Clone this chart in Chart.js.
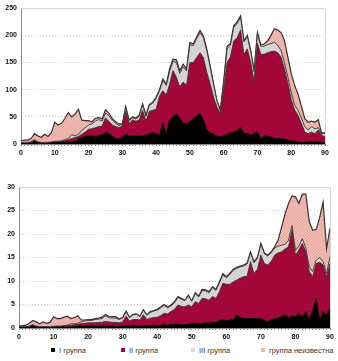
<!DOCTYPE html>
<html>
<head>
<meta charset="utf-8">
<script src="https://cdn.jsdelivr.net/npm/chart.js@4"></script>
<style>
  body { margin: 0; background: #fff; width: 338px; height: 361px; overflow: hidden; position: relative;
         font-family: "Liberation Sans", Arial, sans-serif; }
  #chartTop { position: absolute; left: 0; top: 0; }
  #chartBottom { position: absolute; left: 0; top: 162px; }
  #legend { position: absolute; left: 0; top: 346px; width: 338px; height: 10px; font-size: 7.5px; color: #333; }
  #legend .item { position: absolute; top: 0; line-height: 10px; white-space: nowrap; }
  #legend .sw { display: inline-block; width: 4px; height: 4px; margin-right: 4px; vertical-align: 1px; }
</style>
</head>
<body>
<canvas id="chartTop" width="338" height="162"></canvas>
<canvas id="chartBottom" width="338" height="183"></canvas>
<div id="legend"></div>
<script>
// age, 0..90
const ages = Array.from({ length: 91 }, (_, i) => i);

const seriesNames = ["I группа", "II группа", "III группа", "группа неизвестна"];

// upper panel (0-250)
const topGroup1 = [1,1,1,2,5,2,1,1,1,2, 2,3,3,3,4,4,5,10,12,14, 15,15,14,15,17,21,19,15,10,9,
  13,18,14,16,15,15,16,16,19,21, 19,16,38,19,44,50,56,47,38,38, 41,47,52,56,44,26,20,19,14,13,
  15,18,20,22,25,30,20,19,16,20, 22,10,16,14,13,10,10,10,9,7, 6,5,4,2,3,4,4,4,4,2, 3];
const topGroup2 = [1,1,1,1,2,1,1,1,1,1, 2,1,2,3,4,6,7,4,6,8, 12,13,16,17,16,27,23,20,22,21,
  20,42,24,28,27,29,46,26,41,41, 45,72,60,71,66,85,67,58,76,70, 109,103,107,112,115,106,91,67,54,43,
  85,132,140,168,170,180,145,156,134,95, 163,155,149,154,157,161,158,150,129,105, 76,58,49,36,19,15,18,15,22,14, 10];
const topGroup3 = [1,1,1,1,1,1,1,1,1,1, 1,1,1,2,2,7,3,4,7,8, 8,9,12,13,9,9,10,9,6,4,
  3,7,5,4,4,7,10,9,11,13, 20,10,19,18,24,17,27,25,28,27, 33,31,35,37,37,40,31,23,11,5,
  12,25,22,25,27,23,23,23,20,18, 18,15,15,15,15,16,14,12,12,11, 13,9,9,10,10,7,10,9,4,3, 6];
const topUnknown = [3,4,4,6,11,11,9,15,11,17, 35,30,32,39,48,33,40,46,19,13, 8,4,5,4,4,6,5,3,3,3,
  1,2,1,2,2,2,2,2,2,2, 2,2,3,2,4,4,5,5,5,3, 4,3,3,4,3,3,2,2,1,2,
  3,5,3,3,3,3,2,2,2,2, 2,3,4,7,15,25,28,33,40,37, 35,36,30,22,15,14,10,12,15,1, 2];

// lower panel (0-30)
const botGroup1 = [0.1,0.1,0.1,0.2,0.5,0.2,0.1,0.1,0.1,0.1, 0.1,0.2,0.2,0.2,0.2,0.2,0.3,0.4,0.4,0.4,
  0.4,0.4,0.4,0.4,0.4,0.5,0.4,0.4,0.3,0.3, 0.4,0.6,0.4,0.5,0.4,0.4,0.5,0.5,0.5,0.6,
  0.5,0.5,0.8,0.5,0.8,0.8,0.8,0.7,0.7,0.8, 1.0,1.0,0.9,1.0,1.1,1.0,1.3,1.1,1.6,1.8,
  1.5,1.7,1.7,2.8,2.3,2.0,2.0,2.0,2.0,2.0, 2.0,1.6,1.3,1.8,2.0,2.0,2.5,2.8,2.2,2.6,
  2.4,3.1,2.4,3.5,1.7,3.8,6.3,1.7,3.5,2.8, 4.2];
const botGroup2 = [0.1,0.1,0.1,0.1,0.1,0.1,0.1,0.1,0.1,0.1, 0.2,0.1,0.1,0.2,0.3,0.4,0.4,0.4,0.5,0.6,
  0.7,0.7,0.7,0.8,0.8,0.9,0.9,0.8,0.9,0.8, 0.9,1.9,1.1,1.3,1.4,1.3,2.3,1.3,1.6,1.6,
  1.8,2.1,2.3,2.5,2.7,3.2,4.1,3.9,3.8,4.1, 3.5,4.6,4.3,5.3,5.1,4.9,5.4,5.2,6.1,7.7,
  7.8,7.6,8.1,7.4,8.3,8.9,9.0,12.1,9.6,10.5, 13.5,12.1,12.1,12.4,13.5,14.0,13.7,14.0,15.1,18.2,
  13.1,13.5,15.6,12.7,10.3,7.1,7.4,12.3,9.9,8.1, 9.5];
const botGroup3 = [0.1,0.1,0.1,0.1,0.1,0.1,0.1,0.1,0.1,0.1, 0.1,0.1,0.1,0.1,0.1,0.3,0.2,0.2,0.4,0.5,
  0.5,0.5,0.7,0.7,0.8,1.2,0.9,0.9,0.9,0.7, 0.8,0.9,0.7,1.0,1.1,0.7,1.0,0.9,1.2,1.4,
  1.5,1.7,1.7,1.3,1.2,1.4,1.6,1.5,1.3,1.9, 1.2,1.7,1.4,1.7,1.7,1.6,1.9,1.7,1.9,1.8,
  1.4,2.1,2.5,2.5,2.4,2.3,2.6,1.9,2.3,2.3, 2.3,2.1,1.9,1.8,1.5,1.4,1.4,1.0,1.4,1.0,
  1.0,0.8,1.0,0.8,1.0,1.1,0.7,1.0,0.7,0.7, 1.4];
const botUnknown = [0.1,0.2,0.3,0.6,0.9,0.9,0.6,1.0,0.7,0.9, 2.0,1.6,1.6,1.8,1.9,1.1,1.3,1.6,0.4,0.2,
  0.2,0.2,0.2,0.2,0.3,0.3,0.3,0.3,0.3,0.1, 0.2,0.2,0.1,0.1,0.1,0.1,0.1,0.1,0.2,0.1,
  0.2,0.2,0.2,0.2,0.2,0.2,0.2,0.2,0.1,0.2, 0.1,0.2,0.2,0.2,0.2,0.2,0.2,0.2,0.2,0.3,
  0.2,0.2,0.2,0.2,0.2,0.2,0.2,0.2,0.2,0.2, 0.2,0.2,0.2,0.2,0.3,1.3,3.9,6.5,7.8,6.3,
  11.4,9.1,9.5,11.5,9.6,8.8,6.6,8.5,12.7,5.3, 6.1];

const topTicks = [0, 50, 100, 150, 200, 250];
const bottomTicks = [0, 5, 10, 15, 20, 25, 30];

const FONT = "'Liberation Sans', Arial, sans-serif";
const LINE = "#3d2f2f";

// small dithered fills like the scanned original
function texture(base, dot) {
  const c = document.createElement("canvas");
  c.width = 3; c.height = 3;
  const g = c.getContext("2d");
  g.fillStyle = base;
  g.fillRect(0, 0, 3, 3);
  g.fillStyle = dot;
  g.fillRect(0, 0, 1, 1);
  g.fillRect(2, 1, 1, 1);
  g.fillRect(1, 2, 1, 1);
  return g.createPattern(c, "repeat");
}

const swatches = ["#000000", "#a8073b", "#d9d9d9", "#f0b6ad"];
const fills = [
  "#000000",
  texture("#a8073b", "#9a0536"),
  texture("#dadada", "#c9c9c9"),
  texture("#f2bcb3", "#e3a39a")
];

// light frame on the top and right of the plot
const framePlugin = {
  id: "frame",
  afterDraw(chart) {
    const { ctx, chartArea: a } = chart;
    ctx.save();
    ctx.strokeStyle = "#d6d6d6";
    ctx.lineWidth = 1;
    ctx.beginPath();
    ctx.moveTo(a.left, a.top + 0.5);
    ctx.lineTo(a.right + 0.5, a.top + 0.5);
    ctx.lineTo(a.right + 0.5, a.bottom);
    ctx.stroke();
    ctx.restore();
  }
};

function makeChart(id, series, yMax, yStep, yTicks, box) {
  const datasets = series.map((data, i) => ({
    label: seriesNames[i],
    data: data,
    backgroundColor: fills[i],
    borderColor: i === 0 ? "#000" : LINE,
    borderWidth: i === 3 ? 1.2 : 0.9,
    fill: i === 0 ? "origin" : "-1",
    pointRadius: 0,
    tension: 0
  }));

  return new Chart(document.getElementById(id), {
    type: "line",
    data: { labels: ages, datasets },
    plugins: [framePlugin],
    options: {
      responsive: false,
      animation: false,
      devicePixelRatio: 1,
      layout: { padding: { top: box.top, right: box.right, left: 0, bottom: 0 } },
      plugins: { legend: { display: false }, tooltip: { enabled: false } },
      scales: {
        x: {
          offset: false,
          afterFit: s => { s.height = box.xHeight; },
          grid: { drawOnChartArea: false, drawTicks: true, tickLength: 2, color: "#8a8a8a" },
          border: { color: "#8a8a8a" },
          ticks: {
            autoSkip: false, maxRotation: 0, padding: 3, color: "#111",
            font: { family: FONT, size: 7, weight: "bold" },
            callback: (v, i) => (ages[i] % 10 === 0 ? String(ages[i]) : "")
          }
        },
        y: {
          stacked: true,
          min: 0,
          max: yMax,
          afterFit: s => { s.width = box.left; },
          afterBuildTicks: s => { s.ticks = yTicks.map(v => ({ value: v })); },
          grid: { color: "#cccccc", drawTicks: false },
          border: { color: "#8a8a8a", dash: [1, 2] },
          ticks: {
            stepSize: yStep, padding: 4, color: "#111",
            font: { family: FONT, size: 7, weight: "bold" }
          }
        }
      }
    }
  });
}

makeChart("chartTop", [topGroup1, topGroup2, topGroup3, topUnknown], 250, 50, topTicks,
  { top: 7, right: 13, left: 21, xHeight: 18 });
makeChart("chartBottom", [botGroup1, botGroup2, botGroup3, botUnknown], 30, 5, bottomTicks,
  { top: 25, right: 8, left: 19, xHeight: 17 });

// legend under the lower panel
const legendLeft = [51, 121, 191, 261];
const legend = document.getElementById("legend");
seriesNames.forEach((name, i) => {
  const item = document.createElement("span");
  item.className = "item";
  item.style.left = legendLeft[i] + "px";
  const sw = document.createElement("span");
  sw.className = "sw";
  sw.style.background = swatches[i];
  item.appendChild(sw);
  item.appendChild(document.createTextNode(name));
  legend.appendChild(item);
});
</script>
</body>
</html>
